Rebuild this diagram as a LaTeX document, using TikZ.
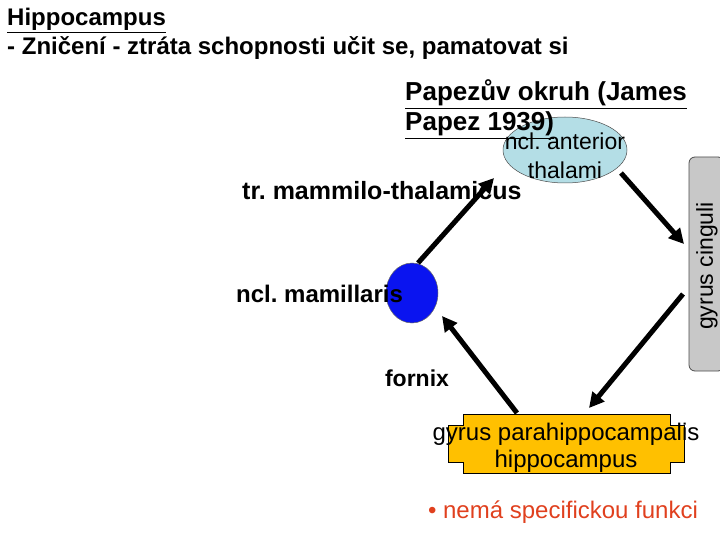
\documentclass[tikz,border=0pt]{standalone}
\usepackage{fontspec}
\setmainfont{Liberation Sans}
\usetikzlibrary{arrows.meta,shapes.geometric}
\definecolor{thalblue}{HTML}{B4DEE6}
\definecolor{mamblue}{HTML}{0A14F0}
\definecolor{gold}{HTML}{FFC000}
\definecolor{cingray}{HTML}{C8C8C8}
\definecolor{redtext}{HTML}{E0401E}
\frenchspacing
\tikzset{
  lbl/.style={inner sep=0pt, anchor=base west},
  clbl/.style={inner sep=0pt, anchor=base},
  bigarrow/.style={line width=5pt, -{Triangle[length=15pt,width=15pt]}},
}
\begin{document}
\begin{tikzpicture}[x=1pt,y=-1pt]
\useasboundingbox (0,0) rectangle (720,540);
% heading
\node[lbl, font=\bfseries\fontsize{24}{28}\selectfont] (h1) at (7,26) {\underline{Hippocampus}};
\node[lbl, font=\bfseries\fontsize{24}{28}\selectfont] (h2) at (7,55) {- Zničení - ztráta schopnosti učit se, pamatovat si};
% shapes
\node[ellipse, draw=black!70, line width=0.5pt, fill=thalblue, minimum width=124pt, minimum height=66pt, inner sep=0pt] (thal) at (565,150) {};
\node[ellipse, draw=black!60, line width=0.5pt, fill=mamblue, minimum width=52pt, minimum height=60pt, inner sep=0pt] (mam) at (412,293) {};
\draw[draw=black!70, line width=0.8pt, fill=cingray, rounded corners=6pt] (689,157) rectangle (724,371);
\node[rotate=90, inner sep=0pt, font=\fontsize{23}{26}\selectfont] (cing) at (707,266) {gyrus cinguli};
\draw[fill=gold, draw=black, line width=0.7pt] (463,414) -- (670,414) -- (670,425) -- (684,425) -- (684,462) -- (670,462) -- (670,473) -- (463,473) -- (463,462) -- (448,462) -- (448,425) -- (463,425) -- cycle;
\coordinate (gyrcenter) at (566,443);
% title
\node[lbl, font=\bfseries\fontsize{26}{30}\selectfont] (title1) at (405,101) {\underline{Papezův okruh (James}};
\node[lbl, font=\bfseries\fontsize{26}{30}\selectfont] (title2) at (405,131) {\underline{Papez 1939)}};
% labels
\node[clbl, font=\fontsize{23}{26}\selectfont] (thal1) at (565,150) {ncl. anterior};
\node[clbl, font=\fontsize{23}{26}\selectfont] (thal2) at (565,179) {thalami};
\node[lbl, font=\bfseries\fontsize{25}{28}\selectfont] (tract) at (242,200) {tr. mammilo-thalamicus};
\node[lbl, font=\bfseries\fontsize{24}{26}\selectfont] (mamlbl) at (236,302) {ncl. mamillaris};
\node[clbl, font=\bfseries\fontsize{23}{26}\selectfont] (fornix) at (417,386) {fornix};
\node[clbl, font=\fontsize{24}{28}\selectfont] (gyr1) at (566,440) {gyrus parahippocampalis};
\node[clbl, font=\fontsize{24}{28}\selectfont] (gyr2) at (566,467) {hippocampus};
\node[clbl, font=\fontsize{24}{28}\selectfont, text=redtext] (note) at (563,518) {• nemá specifickou funkci};
% arrow ends
\coordinate (a1s) at (418,263);
\coordinate (a1e) at (494,178);
\coordinate (a2s) at (621,173);
\coordinate (a2e) at (684,244);
\coordinate (a3s) at (683,294);
\coordinate (a3e) at (589,408);
\coordinate (a4s) at (517,413);
\coordinate (a4e) at (442,316);
\draw[bigarrow] (a1s) -- (a1e);
\draw[bigarrow] (a2s) -- (a2e);
\draw[bigarrow] (a3s) -- (a3e);
\draw[bigarrow] (a4s) -- (a4e);
\end{tikzpicture}
\end{document}
